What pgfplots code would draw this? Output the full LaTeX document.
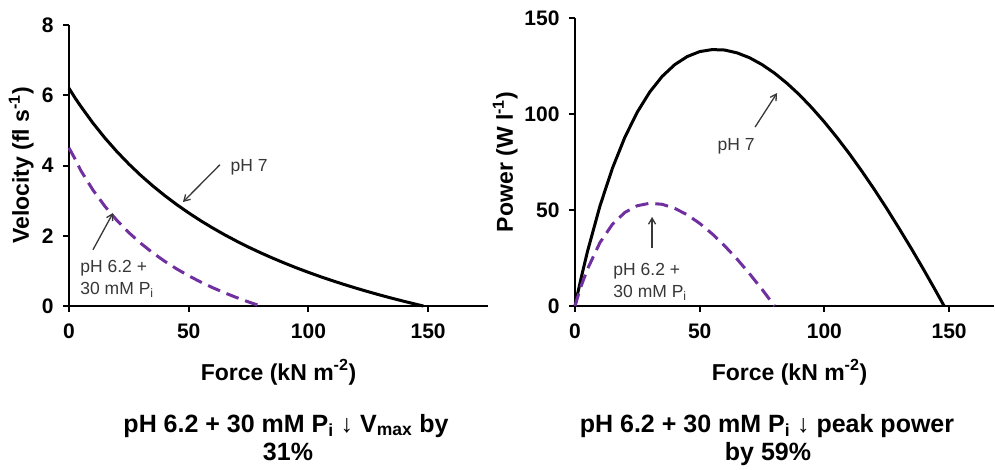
\documentclass[border=0pt]{standalone}
\usepackage{pgfplots}
\pgfplotsset{compat=1.18}
\usepackage{pgfplotstable}
\usepackage{fontspec}
\setmainfont{Liberation Sans}
\usetikzlibrary{arrows.meta}
\definecolor{acid}{RGB}{112,48,160}
\definecolor{annotc}{RGB}{55,55,55}

\pgfplotstableread{
F V
0 6.200
2.5 5.926
5 5.678
10 5.208
15 4.783
20 4.396
25 4.042
30 3.717
35 3.419
40 3.143
45 2.887
50 2.650
55 2.428
60 2.222
65 2.028
70 1.847
75 1.676
80 1.516
85 1.365
90 1.222
95 1.086
100 0.958
105 0.836
110 0.721
115 0.611
120 0.506
125 0.406
130 0.310
135 0.219
140 0.132
145 0.048
148 0
}\velA

\pgfplotstableread{
F V
0 4.500
2.5 4.190
5 3.849
10 3.302
15 2.838
20 2.438
25 2.089
30 1.784
35 1.513
40 1.272
45 1.055
50 0.860
55 0.683
60 0.522
65 0.375
70 0.240
75 0.115
80 0
}\velB

\pgfplotstableread{
F P
0 0
1 6.14
2.5 14.82
5 28.39
10 52.08
15 71.75
20 87.92
25 101.05
30 111.51
35 119.65
40 125.72
45 129.92
50 132.50
55 133.55
60 133.32
65 131.83
70 129.29
75 125.72
80 121.28
85 115.98
90 109.98
95 103.19
100 95.80
105 87.81
110 79.31
115 70.23
120 60.72
125 50.74
130 40.30
135 29.60
140 18.48
145 7.03
148 0
}\powA

\pgfplotstableread{
F P
0 0
1 4.38
2.5 10.48
5 19.25
10 33.02
15 42.57
20 48.75
25 52.23
30 53.51
35 52.96
40 50.87
45 47.49
50 43.02
55 37.59
60 31.34
65 24.38
70 16.79
75 8.64
80 0
}\powB

\pgfplotsset{
  myaxis/.style={
    scale only axis,
    axis lines=left,
    axis line style={-, line width=2pt},
    tick align=outside,
    major tick length=6pt,
    tick style={line width=2pt, black},
    xmin=0, ymin=0,
    clip=false,
    xtick={0,50,100,150},
    /pgf/number format/assume math mode=true,
    ticklabel style={font=\fontsize{21}{25}\selectfont\bfseries},
    xticklabel style={yshift=-8pt},
    yticklabel style={xshift=-6pt},
    label style={font=\fontsize{23}{27}\selectfont\bfseries},
  },
}
\tikzset{
  annot/.style={font=\fontsize{17.5}{22}\selectfont, text=annotc},
  arr/.style={-{Straight Barb[length=6pt,width=7pt]}, line width=1.3pt, draw=annotc},
}

\begin{document}
\begin{tikzpicture}
\path[use as bounding box] (0pt,0pt) rectangle (995pt,469pt);

% Left panel: velocity
\begin{axis}[myaxis,
  at={(69pt,163pt)}, anchor=south west,
  width=419pt, height=281pt,
  xmax=175, ymax=8,
  ytick={0,2,4,6,8},
  xlabel={Force (kN m\textsuperscript{-2})},
  ylabel={Velocity (fl s\textsuperscript{-1})},
  xlabel style={at={(axis description cs:0.5,0)}, anchor=base, yshift=-74pt},
  ylabel style={at={(axis description cs:-0.0955,0.5)}, anchor=base},
]
\addplot[black, line width=3pt] table[x=F, y=V] {\velA};
\addplot[acid, line width=3pt, dash pattern=on 13pt off 7pt] table[x=F, y=V] {\velB};
\node[annot] at (axis cs:75.2,3.96) {pH 7};
\draw[arr] (axis cs:63,4.02) -- (axis cs:47.6,2.96);
\node[annot, anchor=west, align=left] at (axis cs:3.3,0.77) {pH 6.2 +\\30 mM P\textsubscript{i}};
\draw[arr] (axis cs:10,1.6) -- (axis cs:18.4,2.65);
\end{axis}

% Right panel: power
\begin{axis}[myaxis,
  at={(575pt,163pt)}, anchor=south west,
  width=419pt, height=288pt,
  xmax=168, ymax=150,
  ytick={0,50,100,150},
  xlabel={Force (kN m\textsuperscript{-2})},
  ylabel={Power (W l\textsuperscript{-1})},
  xlabel style={at={(axis description cs:0.5,0)}, anchor=base, yshift=-74pt, xshift=5pt},
  ylabel style={at={(axis description cs:-0.148,0.5)}, anchor=base},
]
\addplot[black, line width=3pt] table[x=F, y=P] {\powA};
\addplot[acid, line width=3pt, dash pattern=on 13pt off 7pt] table[x=F, y=P] {\powB};
\node[annot] at (axis cs:64.6,83.3) {pH 7};
\draw[arr] (axis cs:72.2,93.2) -- (axis cs:81,110.9);
\node[annot, anchor=west, align=left] at (axis cs:14.0,12.5) {pH 6.2 +\\30 mM P\textsubscript{i}};
\draw[arr] (axis cs:30.9,30.2) -- (axis cs:30.9,46.4);
\end{axis}

% Panel captions
\node[anchor=base, font=\fontsize{25}{30}\selectfont\bfseries] at (286pt,37pt) {pH 6.2 + 30 mM P\textsubscript{i} ↓ V\textsubscript{max} by};
\node[anchor=base, font=\fontsize{25}{30}\selectfont\bfseries] at (288pt,9pt) {31\%};
\node[anchor=base, font=\fontsize{25}{30}\selectfont\bfseries] at (767pt,37pt) {pH 6.2 + 30 mM P\textsubscript{i} ↓ peak power};
\node[anchor=base, font=\fontsize{25}{30}\selectfont\bfseries] at (768pt,9pt) {by 59\%};
\end{tikzpicture}
\end{document}
